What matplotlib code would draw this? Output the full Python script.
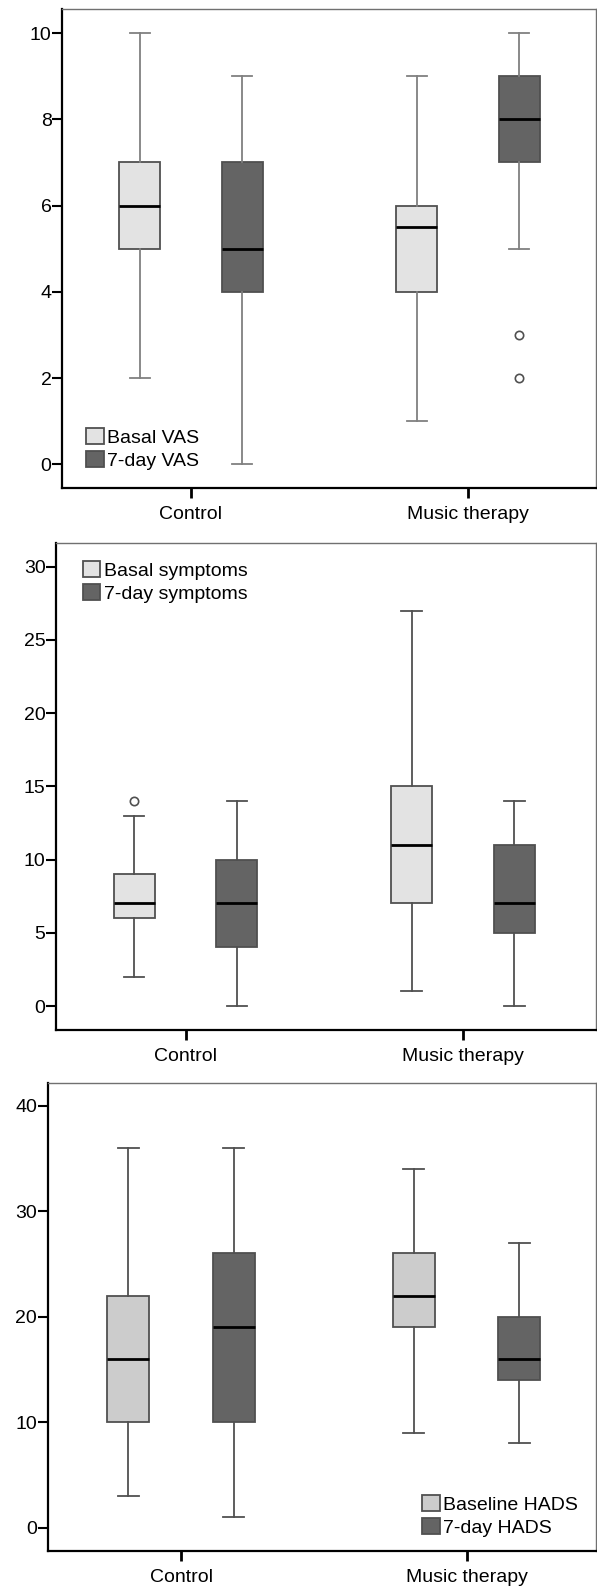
import matplotlib
matplotlib.use("Agg")
import matplotlib.pyplot as plt
from matplotlib.patches import Patch

plt.rcParams['font.family'] = ['Liberation Sans', 'DejaVu Sans']

groups = ["Control", "Music therapy"]

# order: Control basal, Control 7-day, Music basal, Music 7-day
vas_lo = [2, 0, 1, 5]
vas_q1 = [5, 4, 4, 7]
vas_med = [6, 5, 5.5, 8]
vas_q3 = [7, 7, 6, 9]
vas_hi = [10, 9, 9, 10]
vas_fliers = [[], [], [], [3, 2]]
vas_labels = ["Basal VAS", "7-day VAS"]

sym_lo = [2, 0, 1, 0]
sym_q1 = [6, 4, 7, 5]
sym_med = [7, 7, 11, 7]
sym_q3 = [9, 10, 15, 11]
sym_hi = [13, 14, 27, 14]
sym_fliers = [[14], [], [], []]
sym_labels = ["Basal symptoms", "7-day symptoms"]

hads_lo = [3, 1, 9, 8]
hads_q1 = [10, 10, 19, 14]
hads_med = [16, 19, 22, 16]
hads_q3 = [22, 26, 26, 20]
hads_hi = [36, 36, 34, 27]
hads_fliers = [[], [], [], []]
hads_labels = ["Baseline HADS", "7-day HADS"]

W, H = 597, 1594
fig = plt.figure(figsize=(W / 100, H / 100), dpi=100)


def panel(left, top, bottom, xc1, xc2, y0px, ytop_px, ytop_val, ticks,
          lo, q1, med, q3, hi, fliers, labels, light, whis_col, leg_px):
    right = 596
    ax = fig.add_axes([left / W, 1 - bottom / H, (right - left) / W, (bottom - top) / H])
    ppu_y = (y0px - ytop_px) / ytop_val
    ax.set_ylim(-(bottom - y0px) / ppu_y, (y0px - top) / ppu_y)
    ppu_x = xc2 - xc1
    ax.set_xlim(1 - (xc1 - left) / ppu_x, 2 + (right - xc2) / ppu_x)

    stats = []
    for i in range(4):
        stats.append(dict(whislo=lo[i], q1=q1[i], med=med[i], q3=q3[i],
                          whishi=hi[i], fliers=fliers[i]))
    pos = [0.815, 1.185, 1.815, 2.185]
    bp = ax.bxp(stats, positions=pos, widths=0.148, patch_artist=True,
                showfliers=True,
                boxprops=dict(edgecolor='#505050', linewidth=1.3),
                whiskerprops=dict(color=whis_col, linewidth=1.3),
                capprops=dict(color=whis_col, linewidth=1.3),
                medianprops=dict(color='black', linewidth=2),
                flierprops=dict(marker='o', markersize=6, markerfacecolor='white',
                                markeredgecolor='#505050', markeredgewidth=1.2))
    for i, b in enumerate(bp['boxes']):
        b.set_facecolor(light if i % 2 == 0 else '#646464')

    ax.set_xticks([1, 2])
    ax.set_xticklabels(groups)
    ax.set_yticks(ticks)
    ax.tick_params(axis='y', length=7, width=1.5, pad=0.5, labelsize=14, colors='black')
    ax.tick_params(axis='x', length=7, width=2, pad=6, labelsize=14)
    for s in ['left', 'bottom']:
        ax.spines[s].set_linewidth(1.6)
        ax.spines[s].set_color('black')
    for s in ['top', 'right']:
        ax.spines[s].set_linewidth(1.0)
        ax.spines[s].set_color('#707070')

    handles = [Patch(facecolor=light, edgecolor='#505050', linewidth=1.3),
               Patch(facecolor='#646464', edgecolor='#505050', linewidth=1.3)]
    lx, ly = leg_px
    ax.legend(handles, labels, loc='upper left',
              bbox_to_anchor=((lx - left) / (right - left), (bottom - ly) / (bottom - top)),
              frameon=False, fontsize=14, handlelength=0.9, handleheight=0.9,
              handletextpad=0.2, labelspacing=0.23, borderpad=0, borderaxespad=0)
    return ax


panel(62, 9, 488, 191, 468, 464.3, 33, 10, [0, 2, 4, 6, 8, 10],
      vas_lo, vas_q1, vas_med, vas_q3, vas_hi, vas_fliers, vas_labels,
      '#e3e3e3', '#808080', (86, 428))

panel(56, 543, 1030, 185.5, 463, 1006, 566.7, 30, [0, 5, 10, 15, 20, 25, 30],
      sym_lo, sym_q1, sym_med, sym_q3, sym_hi, sym_fliers, sym_labels,
      '#e3e3e3', '#505050', (82.5, 561))

panel(47.5, 1083, 1551, 181, 466.5, 1527.7, 1105.7, 40, [0, 10, 20, 30, 40],
      hads_lo, hads_q1, hads_med, hads_q3, hads_hi, hads_fliers, hads_labels,
      '#cccccc', '#505050', (422, 1495))

fig.savefig("out.png", dpi=100)
